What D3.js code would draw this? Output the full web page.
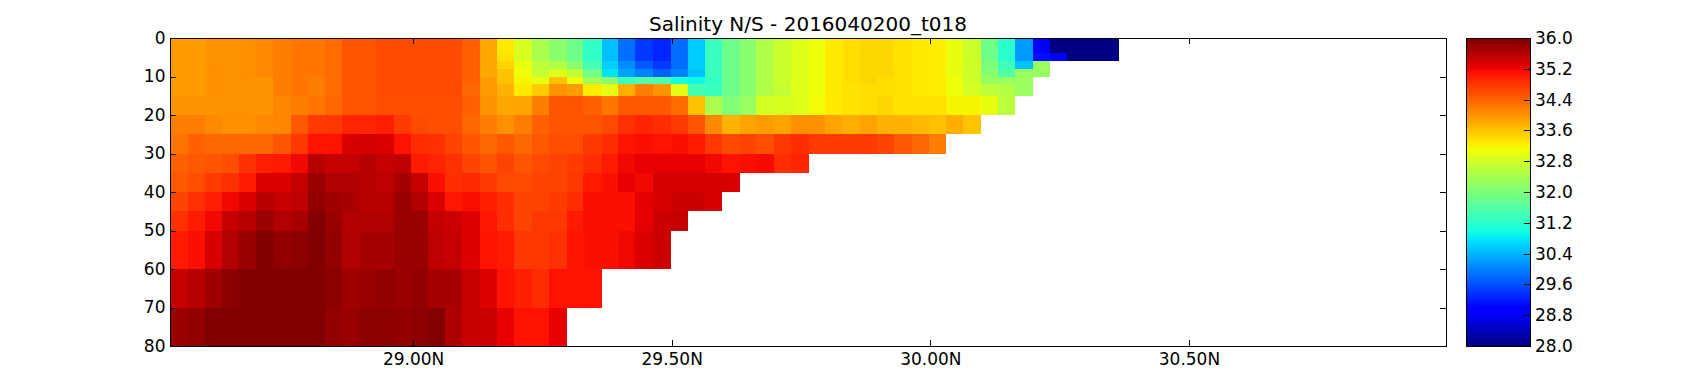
<!DOCTYPE html>
<html>
<head>
<meta charset="utf-8">
<script src="https://cdn.jsdelivr.net/npm/d3@7"></script>
<style>
	html, body { margin: 0; padding: 0; background: #fff; }
	svg { display: block; }
	text { font-family: 'DejaVu Sans', sans-serif; fill: #000; }
	.tick text { font-size: 17px; }
	.tick line, .domain { stroke: #000; stroke-width: 1; shape-rendering: crispEdges; }
</style>
</head>
<body>
<script>
// Data
var title = 'Salinity N/S - 2016040200_t018';
var latEdges = [28.531, 28.564, 28.597, 28.631, 28.664, 28.697, 28.73, 28.763, 28.797, 28.83,
	28.863, 28.896, 28.929, 28.963, 28.996, 29.029, 29.062, 29.095, 29.129, 29.162,
	29.195, 29.229, 29.262, 29.297, 29.329, 29.365, 29.396, 29.429, 29.463, 29.498,
	29.531, 29.564, 29.597, 29.632, 29.663, 29.697, 29.73, 29.766, 29.797, 29.83,
	29.864, 29.897, 29.93, 29.964, 29.997, 30.031, 30.064, 30.098, 30.131, 30.164,
	30.198, 30.231, 30.265, 30.298, 30.331, 30.365];
var depthEdges = [0, 4, 6, 8, 10, 12, 15, 20, 25, 30, 35, 40, 45, 50, 60, 70, 80];
var latTicks = [29, 29.5, 30, 30.5];
var depthTicks = [0, 10, 20, 30, 40, 50, 60, 70, 80];
var colorTicks = [28.0, 28.8, 29.6, 30.4, 31.2, 32.0, 32.8, 33.6, 34.4, 35.2, 36.0];

// one list per depth layer, north end stops where the bottom comes up
var sal00 = [33.95, 33.95, 34.0, 34.0, 34.05, 34.1, 34.2, 34.25, 34.25, 34.35, 34.55, 34.55, 34.65, 34.65, 34.65, 34.65, 34.65, 34.45, 33.85, 33.3, 32.9, 32.45, 32.15, 31.85, 31.25, 30.5, 29.9, 29.45, 29.3, 29.85, 30.6, 31.35, 31.85, 32.15, 32.5, 32.75, 32.95, 33.1, 33.3, 33.4, 33.45, 33.45, 33.35, 33.3, 33.25, 33.05, 32.75, 31.9, 31.2, 30.2, 29.0, 28, 28, 28, 28];
var sal04 = [33.95, 33.95, 34.0, 34.0, 34.05, 34.1, 34.2, 34.25, 34.25, 34.35, 34.55, 34.55, 34.65, 34.65, 34.65, 34.65, 34.65, 34.45, 33.85, 33.35, 32.9, 32.45, 32.15, 31.85, 31.25, 30.5, 29.9, 29.45, 29.3, 29.85, 30.6, 31.35, 31.85, 32.15, 32.5, 32.75, 32.95, 33.1, 33.3, 33.4, 33.45, 33.45, 33.35, 33.3, 33.25, 33.05, 32.75, 31.9, 31.2, 30.2, 29.1, 28.95, 28, 28, 28];
var sal06 = [33.95, 33.95, 34.0, 34.0, 34.05, 34.1, 34.2, 34.25, 34.25, 34.35, 34.55, 34.55, 34.65, 34.65, 34.65, 34.65, 34.65, 34.45, 33.85, 33.45, 33.05, 32.65, 32.5, 32.1, 31.45, 30.65, 30.1, 29.7, 29.45, 29.85, 30.6, 31.35, 31.85, 32.15, 32.5, 32.75, 32.95, 33.1, 33.3, 33.4, 33.45, 33.45, 33.35, 33.3, 33.25, 33.05, 32.8, 32.0, 31.4, 30.5, 32.25];
var sal08 = [33.95, 33.95, 34.05, 34.0, 34.05, 34.1, 34.2, 34.25, 34.25, 34.35, 34.55, 34.55, 34.65, 34.65, 34.65, 34.65, 34.65, 34.45, 33.85, 33.6, 33.1, 32.7, 32.95, 32.65, 31.85, 30.8, 30.3, 30.05, 29.75, 30.0, 30.5, 31.35, 31.85, 32.15, 32.5, 32.75, 32.95, 33.1, 33.3, 33.4, 33.45, 33.45, 33.35, 33.3, 33.25, 33.05, 32.8, 32.1, 31.6, 32.25, 32.25];
var sal10 = [33.95, 33.95, 34.05, 34.0, 34.0, 34.0, 34.2, 34.25, 34.2, 34.35, 34.55, 34.55, 34.65, 34.65, 34.65, 34.65, 34.65, 34.45, 33.95, 33.65, 33.2, 33.05, 33.65, 33.15, 32.35, 32.1, 31.35, 31.6, 31.55, 31.0, 30.95, 31.3, 31.85, 32.15, 32.5, 32.75, 32.95, 33.1, 33.3, 33.4, 33.45, 33.4, 33.35, 33.3, 33.25, 33.1, 32.8, 32.25, 32.25, 32.25];
var sal12 = [33.95, 33.95, 34.05, 34.0, 34.0, 34.0, 34.2, 34.25, 34.2, 34.35, 34.55, 34.55, 34.65, 34.65, 34.65, 34.65, 34.65, 34.4, 33.95, 33.75, 33.3, 33.55, 34.0, 33.95, 33.25, 33.0, 33.8, 34.2, 34.0, 33.0, 31.45, 31.35, 31.85, 32.15, 32.5, 32.7, 32.95, 33.1, 33.3, 33.35, 33.4, 33.4, 33.35, 33.3, 33.25, 33.1, 32.85, 32.65, 32.55, 32.25];
var sal15 = [34.0, 34.0, 34.0, 34.0, 34.0, 34.0, 34.15, 34.2, 34.25, 34.4, 34.55, 34.55, 34.6, 34.6, 34.6, 34.6, 34.6, 34.45, 34.0, 33.85, 33.9, 34.2, 34.55, 34.55, 34.45, 34.25, 34.5, 34.5, 34.5, 34.35, 33.65, 32.45, 32.05, 32.25, 32.85, 32.9, 32.95, 33.15, 33.3, 33.35, 33.4, 33.45, 33.35, 33.35, 33.35, 33.2, 33.2, 33.05, 32.6];
var sal20 = [34.2, 34.2, 34.1, 34.05, 34.05, 34.1, 34.15, 34.5, 34.75, 34.8, 34.95, 34.95, 35.0, 34.75, 34.65, 34.6, 34.6, 34.4, 34.2, 34.05, 34.2, 34.45, 34.55, 34.55, 34.55, 34.65, 34.85, 34.95, 34.9, 34.75, 34.55, 34.1, 33.75, 33.9, 33.95, 33.9, 34.05, 34.05, 33.9, 33.8, 33.9, 33.75, 33.75, 33.7, 33.65, 33.8, 33.6];
var sal25 = [34.3, 34.45, 34.4, 34.4, 34.4, 34.4, 34.55, 34.8, 35.1, 35.1, 35.35, 35.4, 35.35, 35.1, 34.9, 34.85, 34.7, 34.55, 34.4, 34.5, 34.4, 34.5, 34.6, 34.6, 34.8, 34.9, 35.1, 35.15, 35.1, 35.15, 35.05, 34.8, 34.65, 34.7, 34.6, 34.8, 34.9, 34.75, 34.75, 34.75, 34.75, 34.7, 34.5, 34.4, 34.2];
var sal30 = [34.45, 34.5, 34.55, 34.6, 34.85, 35.0, 35.05, 35.2, 35.6, 35.5, 35.5, 35.6, 35.5, 35.55, 35.05, 34.95, 34.85, 34.7, 34.55, 34.7, 34.55, 34.65, 34.7, 34.75, 34.9, 35.05, 35.2, 35.25, 35.25, 35.25, 35.25, 35.2, 35.1, 35.15, 35.18, 34.9, 34.95];
var sal35 = [34.5, 34.6, 34.75, 34.85, 35.05, 35.35, 35.35, 35.5, 35.8, 35.65, 35.65, 35.6, 35.55, 35.7, 35.5, 35.15, 34.9, 34.92, 34.75, 34.65, 34.65, 34.7, 34.7, 34.8, 35.05, 35.15, 35.25, 35.2, 35.4, 35.4, 35.4, 35.4, 35.35];
var sal40 = [34.7, 34.85, 35.0, 35.2, 35.35, 35.6, 35.5, 35.55, 35.85, 35.75, 35.7, 35.6, 35.6, 35.8, 35.65, 35.35, 35.08, 35.15, 35.0, 34.9, 34.7, 34.7, 34.75, 34.9, 35.15, 35.15, 35.15, 35.3, 35.4, 35.45, 35.45, 35.4];
var sal45 = [34.85, 35.05, 35.2, 35.5, 35.6, 35.8, 35.65, 35.7, 35.95, 35.8, 35.65, 35.65, 35.65, 35.8, 35.8, 35.5, 35.45, 35.32, 35.08, 34.9, 34.7, 34.8, 34.8, 35.05, 35.15, 35.15, 35.15, 35.3, 35.45, 35.5];
var sal50 = [35.05, 35.15, 35.4, 35.65, 35.8, 35.95, 35.85, 35.9, 36.0, 35.85, 35.65, 35.7, 35.7, 35.8, 35.8, 35.55, 35.5, 35.32, 35.12, 35.05, 34.8, 34.8, 34.85, 35.1, 35.15, 35.15, 35.2, 35.35, 35.45];
var sal60 = [35.5, 35.6, 35.75, 35.9, 36.0, 36.0, 36.0, 36.0, 36.0, 35.9, 35.75, 35.8, 35.85, 35.8, 35.85, 35.7, 35.7, 35.5, 35.32, 35.1, 35.0, 34.9, 35.1, 35.1, 35.1];
var sal70 = [35.8, 35.85, 36.0, 36.0, 36.0, 36.0, 36.0, 36.0, 36.0, 35.85, 35.8, 35.9, 35.9, 35.85, 35.88, 35.95, 35.67, 35.52, 35.45, 35.25, 35.1, 35.1, 35.25];
var layers = [sal00, sal04, sal06, sal08, sal10, sal12, sal15, sal20, sal25, sal30, sal35, sal40, sal45, sal50, sal60, sal70];

// Variables
var width = 1700;
var height = 384;
var margin = { top: 38, right: 254, bottom: 38, left: 170 };
var plotRight = width - margin.right;
var plotBottom = height - margin.bottom;
var barLeft = 1466;
var barRight = 1530;
var formatLat = function(d) { return d3.format('.2f')(d) + 'N'; };

// Scaling
var xScale = d3.scaleLinear().domain([28.53, 30.997]).range([margin.left, plotRight]);
var yScale = d3.scaleLinear().domain([0, 80]).range([margin.top, plotBottom]);
var barScale = d3.scaleLinear().domain([28, 36]).range([plotBottom, margin.top]);

// matplotlib jet channels
var redScale = d3.scaleLinear().domain([0, 0.35, 0.66, 0.89, 1]).range([0, 0, 1, 1, 0.5]).clamp(true);
var greenScale = d3.scaleLinear().domain([0, 0.125, 0.375, 0.64, 0.91, 1]).range([0, 0, 1, 1, 0, 0]).clamp(true);
var blueScale = d3.scaleLinear().domain([0, 0.11, 0.34, 0.65, 1]).range([0.5, 1, 1, 0, 0]).clamp(true);
var normScale = d3.scaleLinear().domain([28, 36]).range([0, 1]).clamp(true);
function jet(v) {
	var t = Math.min(Math.floor(normScale(v) * 256), 255) / 255;
	return d3.rgb(redScale(t) * 255, greenScale(t) * 255, blueScale(t) * 255).formatHex();
}

// SVG
var svg = d3.select('body').append('svg')
	.attr('width', width)
	.attr('height', height);

// Section cells
layers.forEach(function(layer, r) {
	svg.append('g').selectAll('rect')
		.data(layer)
		.enter()
		.append('rect')
			.attr('x', function(d, i) { return xScale(latEdges[i]); })
			.attr('y', yScale(depthEdges[r]))
			.attr('width', function(d, i) { return xScale(latEdges[i + 1]) - xScale(latEdges[i]); })
			.attr('height', yScale(depthEdges[r + 1]) - yScale(depthEdges[r]))
			.attr('fill', jet)
			.attr('shape-rendering', 'crispEdges');
});

// Axes, ticks point inwards on all four sides
svg.append('g')
	.attr('transform', 'translate(0,' + plotBottom + ')')
	.call(d3.axisBottom(xScale).tickValues(latTicks).tickFormat(formatLat).tickSize(-6).tickSizeOuter(0).tickPadding(7));
svg.append('g')
	.attr('transform', 'translate(0,' + margin.top + ')')
	.call(d3.axisTop(xScale).tickValues(latTicks).tickFormat('').tickSize(-6).tickSizeOuter(0));
svg.append('g')
	.attr('transform', 'translate(' + margin.left + ',0)')
	.call(d3.axisLeft(yScale).tickValues(depthTicks).tickSize(-6).tickSizeOuter(0).tickPadding(4.5));
svg.append('g')
	.attr('transform', 'translate(' + plotRight + ',0)')
	.call(d3.axisRight(yScale).tickValues(depthTicks).tickFormat('').tickSize(-6).tickSizeOuter(0));

// Title
svg.append('text')
	.attr('x', (margin.left + plotRight) / 2)
	.attr('y', 31)
	.attr('text-anchor', 'middle')
	.style('font-size', '20px')
	.text(title);

// Colorbar, 256 levels drawn bottom up, each overlapping the one below
svg.append('g').selectAll('rect')
	.data(d3.range(256))
	.enter()
	.append('rect')
		.attr('x', barLeft)
		.attr('y', function(d) { return barScale(28 + (d + 1) / 32); })
		.attr('width', barRight - barLeft)
		.attr('height', barScale(28) - barScale(28 + 1 / 32) + 1)
		.attr('fill', function(d) { return jet(28 + (d + 0.5) / 32); })
		.attr('shape-rendering', 'crispEdges');

svg.append('g')
	.attr('transform', 'translate(' + barRight + ',0)')
	.call(d3.axisRight(barScale).tickValues(colorTicks).tickFormat(d3.format('.1f')).tickSize(-6).tickSizeOuter(0).tickPadding(5));
svg.append('rect')
	.attr('x', barLeft + 0.5)
	.attr('y', margin.top + 0.5)
	.attr('width', barRight - barLeft)
	.attr('height', plotBottom - margin.top)
	.attr('fill', 'none')
	.attr('stroke', '#000')
	.attr('shape-rendering', 'crispEdges');
</script>
</body>
</html>
